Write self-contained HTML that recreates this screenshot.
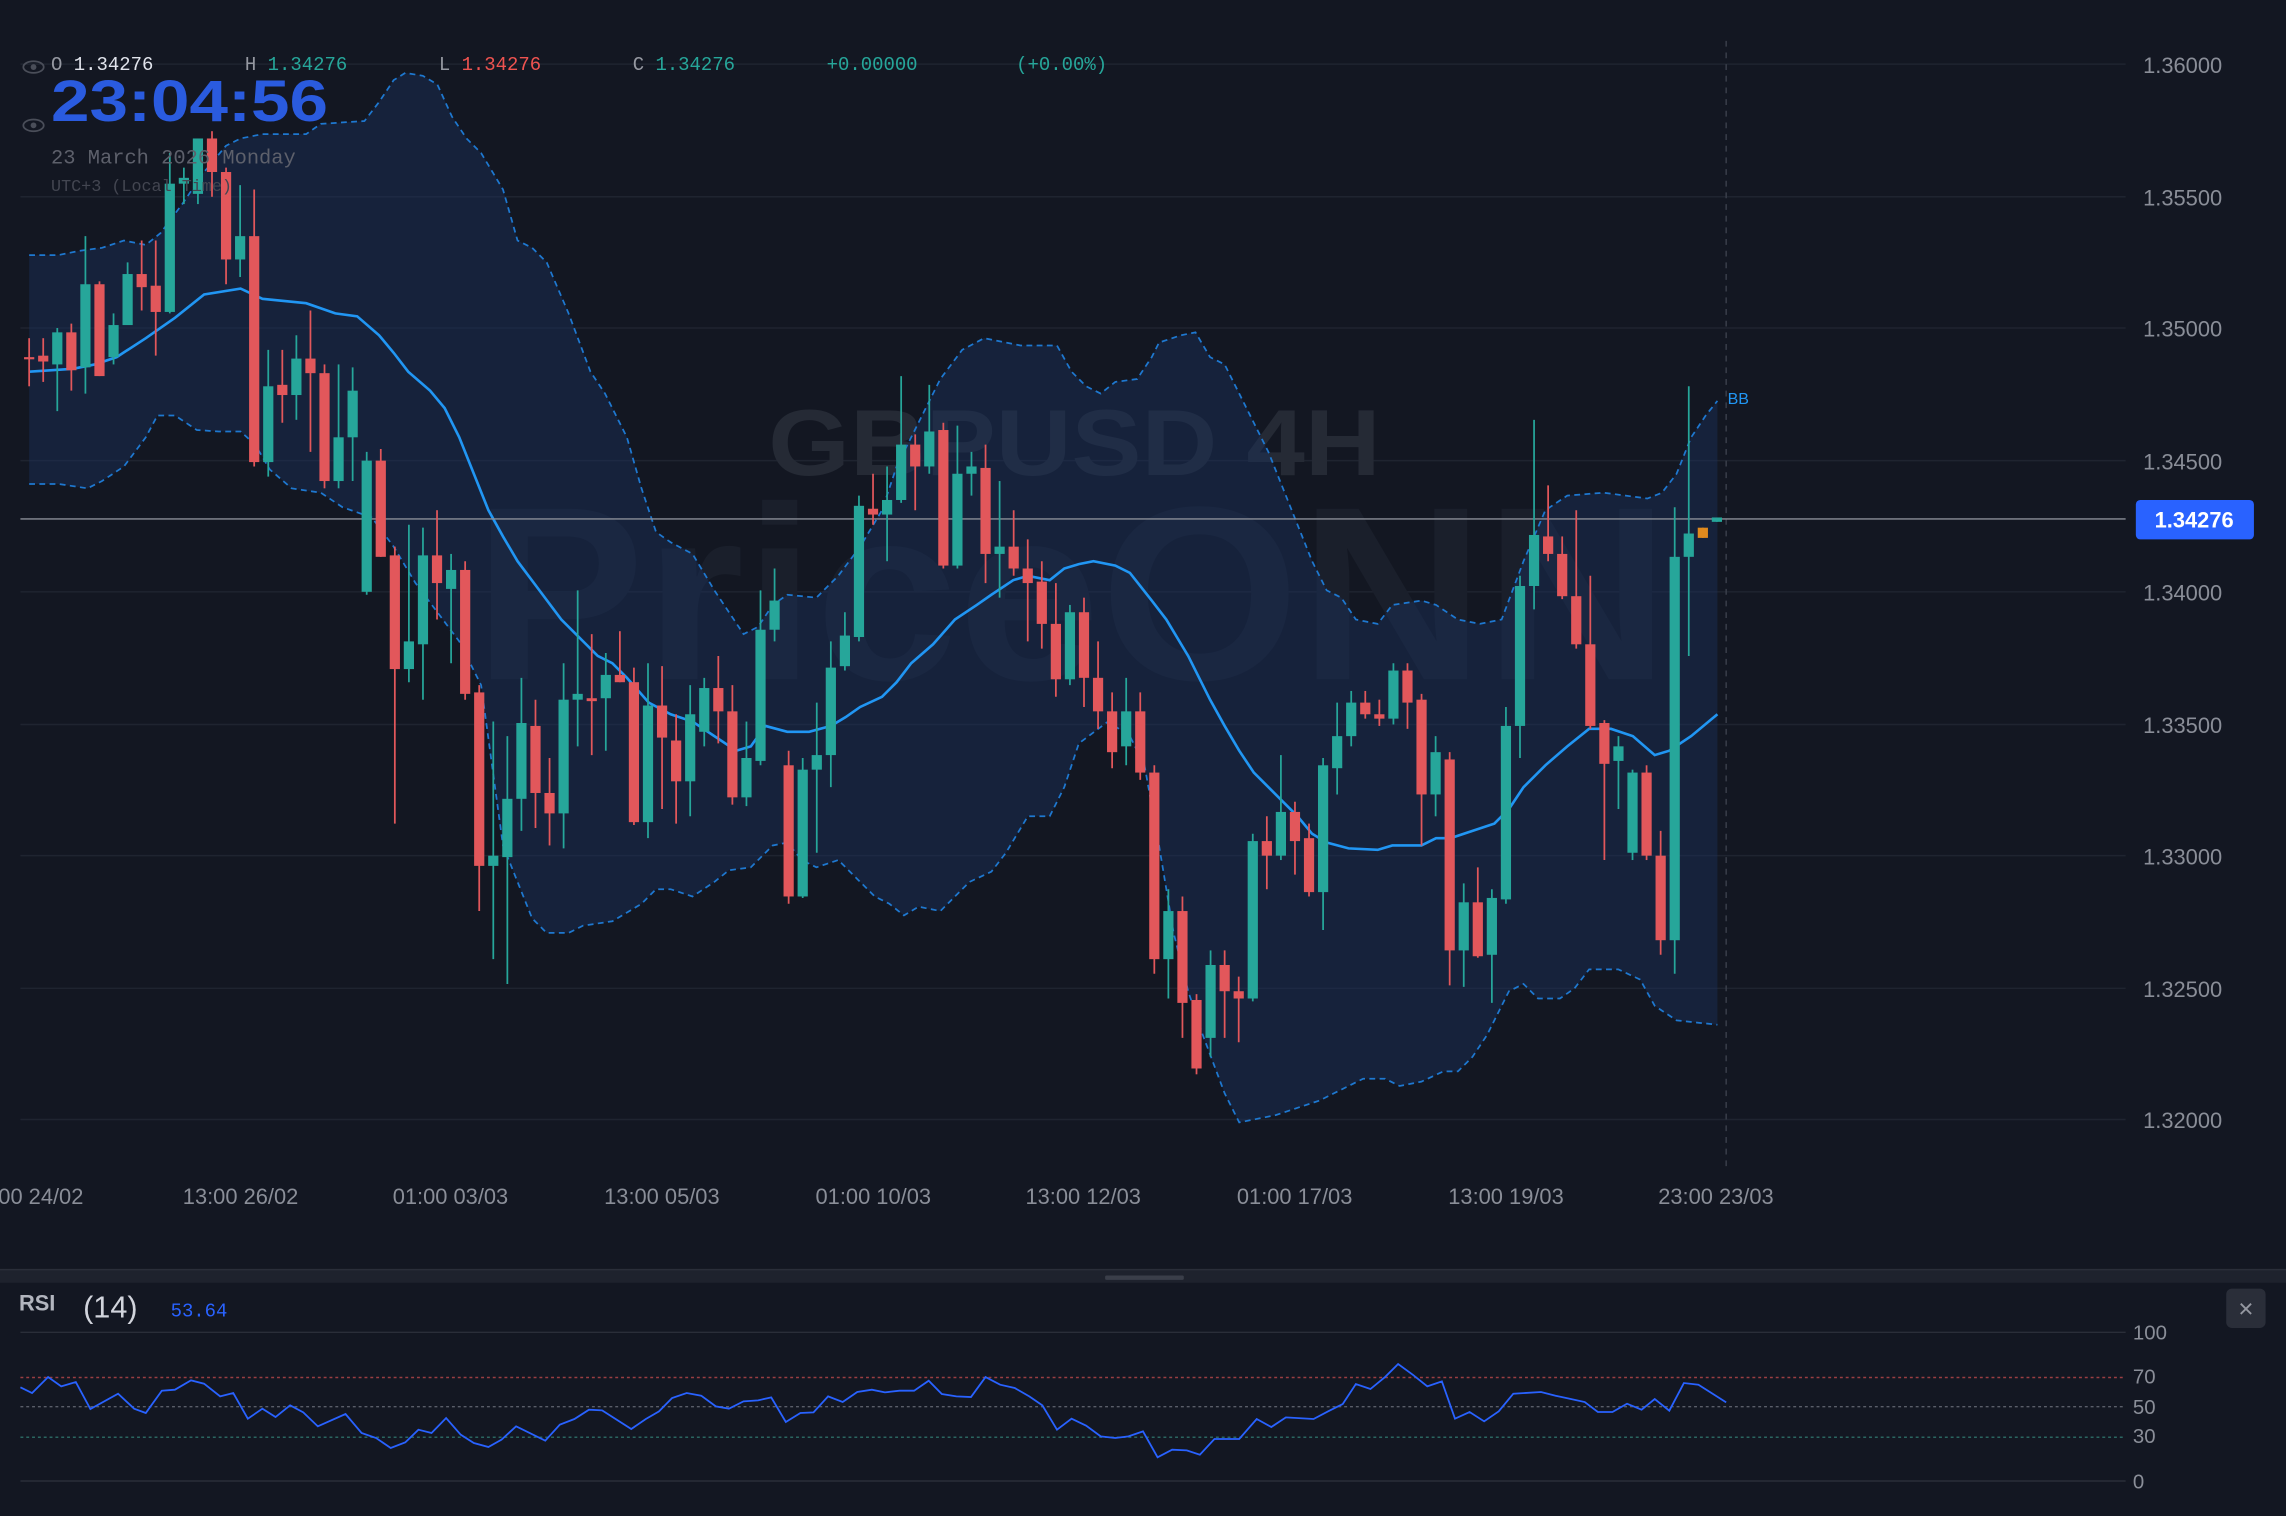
<!DOCTYPE html>
<html><head><meta charset="utf-8"><style>
html,body{margin:0;padding:0;background:#131722;}
svg{display:block}
text{font-family:"Liberation Sans",sans-serif}
.m{font-family:"Liberation Mono",monospace}
</style></head><body>
<svg id="s" width="2286" height="1516" viewBox="0 0 1568 1040" preserveAspectRatio="none" xmlns="http://www.w3.org/2000/svg">
<rect width="1568" height="1040" fill="#131722"/>
<g stroke="#1f2430" stroke-width="1">
<line x1="14" y1="44" x2="1458" y2="44"/><line x1="14" y1="135" x2="1458" y2="135"/><line x1="14" y1="225" x2="1458" y2="225"/><line x1="14" y1="316" x2="1458" y2="316"/><line x1="14" y1="406" x2="1458" y2="406"/><line x1="14" y1="497" x2="1458" y2="497"/><line x1="14" y1="587" x2="1458" y2="587"/><line x1="14" y1="678" x2="1458" y2="678"/><line x1="14" y1="768" x2="1458" y2="768"/>
</g>
<text x="737" y="326" text-anchor="middle" font-size="64" font-weight="bold" fill="#252a35" textLength="420" lengthAdjust="spacingAndGlyphs">GBPUSD 4H</text>
<text x="735" y="466" text-anchor="middle" font-size="170" font-weight="bold" fill="#1a1f2b" textLength="820" lengthAdjust="spacingAndGlyphs">PriceONN</text>
<g id="bb"></g>
<line x1="1184" y1="28" x2="1184" y2="800" stroke="#3a3f4b" stroke-dasharray="4,4"/>
<line x1="14" y1="356" x2="1458" y2="356" stroke="#8a8e98" stroke-width="1"/>
<g id="cd"></g>
<g class="m" font-size="13">
<text x="35" y="48" class="m" fill="#9598a1">O <tspan fill="#e0e3eb">1.34276</tspan></text>
<text x="168" y="48" class="m" fill="#9598a1">H <tspan fill="#26a69a">1.34276</tspan></text>
<text x="301" y="48" class="m" fill="#9598a1">L <tspan fill="#ef5350">1.34276</tspan></text>
<text x="434" y="48" class="m" fill="#9598a1">C <tspan fill="#26a69a">1.34276</tspan></text>
<text x="567" y="48" class="m" fill="#26a69a">+0.00000</text>
<text x="697" y="48" class="m" fill="#26a69a">(+0.00%)</text>
</g>
<g fill="none" stroke="#4a4e59" stroke-width="1.2"><ellipse cx="23" cy="46" rx="7" ry="4"/><ellipse cx="23" cy="86" rx="7" ry="4"/></g>
<circle cx="23" cy="46" r="2" fill="#4a4e59"/><circle cx="23" cy="86" r="2" fill="#4a4e59"/>
<text x="35" y="83" font-size="40" font-weight="bold" fill="#2a5bdf" textLength="190" lengthAdjust="spacingAndGlyphs">23:04:56</text>
<text x="35" y="112" class="m" font-size="14" fill="#5d606b">23 March 2026 Monday</text>
<text x="35" y="131" class="m" font-size="11.5" fill="#434651">UTC+3 (Local Time)</text>
<text x="1185" y="277" font-size="11" fill="#2196f3">BB</text>
<g font-size="15" fill="#8a8e98">
<text x="1470" y="50">1.36000</text><text x="1470" y="141">1.35500</text><text x="1470" y="231">1.35000</text><text x="1470" y="322">1.34500</text><text x="1470" y="412">1.34000</text><text x="1470" y="503">1.33500</text><text x="1470" y="593">1.33000</text><text x="1470" y="684">1.32500</text><text x="1470" y="774">1.32000</text>
</g>
<rect x="1465" y="343" width="81" height="27" rx="3" fill="#2962ff"/>
<text x="1505" y="362" text-anchor="middle" font-size="15" font-weight="bold" fill="#fff">1.34276</text>
<g font-size="15" fill="#8a8e98" text-anchor="middle">
<text x="28" y="826">00 24/02</text><text x="165" y="826">13:00 26/02</text><text x="309" y="826">01:00 03/03</text><text x="454" y="826">13:00 05/03</text><text x="599" y="826">01:00 10/03</text><text x="743" y="826">13:00 12/03</text><text x="888" y="826">01:00 17/03</text><text x="1033" y="826">13:00 19/03</text><text x="1177" y="826">23:00 23/03</text>
</g>
<rect x="0" y="871" width="1568" height="9" fill="#1e222d"/>
<line x1="0" y1="871" x2="1568" y2="871" stroke="#2a2e39"/>
<rect x="758" y="875" width="54" height="3" rx="1" fill="#3a3e49"/>
<text x="13" y="899" font-family="Liberation Serif,serif" font-size="15" font-weight="bold" fill="#b2b5be">RSI</text>
<text x="57" y="904" font-size="21" fill="#d1d4dc">(14)</text>
<text x="117" y="903" class="m" font-size="13" fill="#2962ff">53.64</text>
<rect x="1527" y="884" width="27" height="27" rx="4" fill="#2a2e39"/>
<text x="1540.5" y="904" text-anchor="middle" font-size="18" fill="#9598a1">×</text>
<line x1="14" y1="914" x2="1458" y2="914" stroke="#2a2e39"/>
<line x1="14" y1="1016" x2="1458" y2="1016" stroke="#2a2e39"/>
<line x1="14" y1="945" x2="1458" y2="945" stroke="#9a3e42" stroke-dasharray="2,2"/>
<line x1="14" y1="965" x2="1458" y2="965" stroke="#5a5e69" stroke-dasharray="2,2"/>
<line x1="14" y1="986" x2="1458" y2="986" stroke="#2a6660" stroke-dasharray="2,2"/>
<g font-size="14" fill="#8a8e98">
<text x="1463" y="919">100</text><text x="1463" y="949">70</text><text x="1463" y="970">50</text><text x="1463" y="990">30</text><text x="1463" y="1021">0</text>
</g>
<g transform="translate(0,864.2) scale(1,0.2286)">
<polyline fill="none" stroke="#2962ff" stroke-width="1.8" vector-effect="non-scaling-stroke" points="14,383 22,400 33,352 42,380 52,367 62,448 81,402 92,447 100,460 111,393 120,390 131,362 140,372 151,410 160,400 170,477 180,447 189,472 199,437 208,458 218,500 237,463 248,520 258,535 268,565 278,548 287,510 296,520 306,475 316,525 325,550 335,562 344,540 354,500 374,543 384,495 394,478 404,450 413,452 433,508 443,478 452,455 461,415 471,400 481,408 491,440 500,447 510,425 520,422 529,413 539,487 549,460 558,458 568,410 578,427 588,397 598,390 607,398 617,393 627,393 637,363 646,403 656,410 666,412 676,352 686,375 696,385 706,410 715,437 725,510 735,477 745,498 755,530 765,535 774,530 784,515 794,593 804,570 814,572 823,585 833,538 850,538 862,478 872,502 882,473 901,478 911,455 921,433 930,373 940,388 950,352 959,313 969,345 979,380 989,365 998,477 1008,457 1018,485 1028,455 1038,402 1057,397 1067,408 1087,427 1096,457 1106,457 1116,432 1126,450 1135,418 1145,453 1155,370 1165,375 1184,428"/>
</g>
</svg>
<script>
var NS="http://www.w3.org/2000/svg";
function el(p,t,a){var e=document.createElementNS(NS,t);for(var k in a)e.setAttribute(k,a[k]);p.appendChild(e);return e;}
var up="20,175 40,175 55,172 70,170 85,165 100,168 110,160 125,140 140,118 155,100 165,95 180,92 210,92 220,85 250,83 260,70 270,55 278,50 290,52 300,58 310,80 320,95 330,105 345,130 355,165 365,170 375,180 390,215 405,255 415,270 430,300 440,335 450,365 460,372 475,380 490,405 500,420 510,435 520,430 530,415 540,408 560,410 575,395 590,375 605,350 615,320 630,290 645,260 660,240 675,232 690,235 700,237 725,237 735,255 745,265 755,270 765,262 780,260 790,245 795,235 810,230 820,228 830,245 840,250 850,270 860,290 870,310 880,335 890,360 900,385 910,405 920,410 930,425 945,428 955,415 975,412 985,415 1000,425 1015,428 1030,425 1045,385 1060,350 1075,340 1100,338 1115,340 1130,342 1140,338 1150,325 1160,300 1170,285 1178,275";
var lo="20,332 40,332 60,335 70,330 85,320 100,300 108,285 120,285 135,295 150,296 165,296 175,305 185,322 200,335 220,338 235,348 255,355 270,375 285,400 300,420 315,440 330,470 345,580 355,605 365,630 375,640 390,640 400,635 420,632 440,620 450,610 460,610 475,615 490,605 500,597 515,595 530,580 540,578 550,590 560,595 575,590 585,600 600,615 610,620 620,628 630,622 645,625 655,615 665,605 680,598 690,585 705,560 720,560 730,540 740,510 760,495 775,505 785,525 795,580 805,640 815,680 825,710 840,750 850,770 860,768 875,765 890,760 905,755 915,750 925,745 935,740 950,740 960,745 975,742 990,735 1000,735 1010,725 1020,710 1035,680 1045,675 1055,685 1070,685 1080,678 1090,665 1110,665 1125,672 1135,690 1150,700 1178,703";
var mid="20,255 50,253 65,250 80,245 100,232 120,218 140,202 165,198 180,205 210,208 230,215 245,217 260,230 270,242 280,255 295,268 305,280 315,300 325,325 335,350 345,368 355,385 370,405 385,425 400,440 410,450 420,455 430,465 445,482 460,490 475,495 490,505 505,515 515,512 525,498 540,502 555,502 570,498 580,492 590,485 605,478 615,468 625,455 640,442 655,425 670,415 680,408 695,398 705,395 720,398 730,390 740,387 750,385 765,388 775,393 790,412 800,425 815,450 830,480 840,498 850,515 860,530 875,545 890,560 900,572 910,578 925,582 945,583 955,580 975,580 985,575 995,575 1010,570 1025,565 1035,555 1045,540 1060,525 1075,512 1090,500 1105,500 1120,505 1135,518 1145,515 1160,505 1178,490";
var bb=document.getElementById("bb");
var lr=lo.split(" ").reverse().join(" ");
el(bb,"polygon",{points:up+" "+lr,fill:"#1b3260","fill-opacity":"0.42"});
el(bb,"polyline",{points:up,fill:"none",stroke:"#1e78d0","stroke-width":"1.2","stroke-dasharray":"4,3"});
el(bb,"polyline",{points:lo,fill:"none",stroke:"#1e78d0","stroke-width":"1.2","stroke-dasharray":"4,3"});
el(bb,"polyline",{points:mid,fill:"none",stroke:"#2196f3","stroke-width":"1.8"});
var C=[[245,246,232,265,'r'],[244,248,232,262,'r'],[228,250,225,282,'g'],[228,254,222,268,'r'],[195,252,162,270,'g'],[195,258,193,258,'r'],[223,245,215,250,'g'],[188,223,180,222,'g'],[188,197,165,213,'r'],[196,214,165,244,'r'],[126,214,105,215,'g'],[122,126,115,140,'g'],[95,133,95,140,'g'],[95,118,90,135,'r'],[118,178,115,195,'r'],[162,178,127,190,'g'],[162,317,130,320,'r'],[265,317,240,327,'g'],[264,271,240,290,'r'],[246,271,230,288,'g'],[246,256,213,310,'r'],[256,330,250,335,'r'],[300,330,250,335,'g'],[268,300,252,330,'g'],[316,406,310,408,'g'],[316,382,308,382,'r'],[381,459,375,565,'r'],[440,459,360,468,'g'],[381,442,362,480,'g'],[381,400,350,425,'r'],[391,404,380,455,'g'],[391,476,385,480,'r'],[475,594,470,625,'r'],[587,594,495,658,'g'],[548,588,505,675,'g'],[496,548,465,570,'g'],[498,544,480,568,'r'],[544,558,520,580,'r'],[480,558,455,582,'g'],[476,480,405,512,'g'],[479,481,435,518,'r'],[463,479,448,515,'g'],[463,468,433,468,'r'],[468,564,458,566,'r'],[484,564,455,575,'g'],[484,506,457,555,'r'],[508,536,490,565,'r'],[490,536,470,560,'g'],[472,502,465,512,'g'],[472,488,450,510,'r'],[488,547,470,552,'r'],[520,547,495,553,'g'],[432,522,405,525,'g'],[412,432,390,440,'g'],
[525,615,515,620,'r'],[528,615,520,616,'g'],[518,528,482,585,'g'],[458,518,440,540,'g'],[436,457,420,460,'g'],[347,437,340,440,'g'],[349,353,325,360,'r'],[343,353,320,385,'g'],[305,343,258,345,'g'],[305,320,298,350,'r'],[296,320,264,325,'g'],[295,388,290,390,'r'],[325,388,292,390,'g'],[320,325,310,340,'g'],[321,380,305,400,'r'],[375,380,330,410,'g'],[375,390,350,395,'r'],[390,400,370,440,'r'],[399,428,385,445,'r'],[428,466,400,478,'r'],[420,466,415,470,'g'],[420,465,410,485,'r'],[465,488,440,500,'r'],[488,516,475,527,'r'],[488,512,465,525,'g'],[488,530,475,535,'r'],[530,658,525,668,'r'],[625,658,610,685,'g'],[625,688,615,712,'r'],[686,733,682,737,'r'],[662,712,652,725,'g'],[662,680,652,712,'r'],[680,685,670,715,'r'],[577,685,572,687,'g'],[577,587,560,610,'r'],[557,587,518,590,'g'],[557,577,550,600,'r'],[575,612,565,615,'r'],[525,612,520,638,'g'],[505,527,482,545,'g'],[482,505,474,512,'g'],[482,490,474,493,'r'],[490,493,480,498,'r'],[460,493,455,497,'g'],[460,482,455,500,'r'],[480,545,476,580,'r'],[516,545,505,560,'g'],[521,652,516,676,'r'],[619,652,606,677,'g'],[619,656,595,657,'r'],[616,655,610,688,'g'],[498,617,485,620,'g'],[402,498,395,520,'g'],[367,402,288,418,'g'],[368,380,333,385,'r'],[380,409,368,411,'r'],[409,442,350,445,'r'],[442,498,395,500,'r'],[496,524,494,590,'r'],[512,522,505,555,'g'],[530,585,528,590,'g'],[530,587,525,590,'r'],[587,645,570,655,'r'],[382,645,348,668,'g'],[366,382,265,450,'g'],[362,369,362,369,'o'],[355,358,355,358,'g']];
var cd=document.getElementById("cd");
var sp=(1168-20)/(C.length-2);
for(var i=0;i<C.length;i++){var c=C[i];var x=20+i*sp;var col=c[4]=='g'?'#26a69a':(c[4]=='r'?'#e2575b':'#e08a1e');
el(cd,"line",{x1:x,x2:x,y1:c[2],y2:c[3],stroke:col,"stroke-width":"1.2"});
var h=Math.max(c[1]-c[0],1.5);el(cd,"rect",{x:x-3.5,y:c[0],width:7,height:h,fill:col});}
</script>
</body></html>
